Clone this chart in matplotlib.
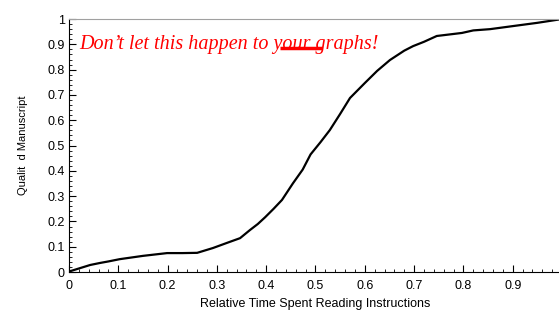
import matplotlib
matplotlib.use("Agg")
import matplotlib.pyplot as plt
from matplotlib.ticker import MultipleLocator

# values
time_spent = [0.0, 0.043, 0.063, 0.08, 0.103, 0.15, 0.199, 0.23, 0.26, 0.292,
              0.32, 0.347, 0.367, 0.383, 0.398, 0.415, 0.432, 0.454, 0.474, 0.49,
              0.51, 0.529, 0.55, 0.570, 0.60, 0.625, 0.651, 0.68, 0.698, 0.72,
              0.746, 0.797, 0.82, 0.854, 0.90, 0.95, 1.0]
quality = [0.002, 0.028, 0.036, 0.042, 0.051, 0.064, 0.075, 0.075, 0.076, 0.095,
           0.115, 0.134, 0.166, 0.19, 0.217, 0.25, 0.285, 0.35, 0.405, 0.465,
           0.513, 0.561, 0.625, 0.688, 0.747, 0.795, 0.838, 0.875, 0.893, 0.91,
           0.933, 0.945, 0.955, 0.96, 0.972, 0.985, 1.0]

xticks = [0, 0.1, 0.2, 0.3, 0.4, 0.5, 0.6, 0.7, 0.8, 0.9]
xtick_labels = ["0", "0.1", "0.2", "0.3", "0.4", "0.5", "0.6", "0.7", "0.8", "0.9"]
yticks = [0, 0.1, 0.2, 0.3, 0.4, 0.5, 0.6, 0.7, 0.8, 0.9, 1.0]
ytick_labels = ["0", "0.1", "0.2", "0.3", "0.4", "0.5", "0.6", "0.7", "0.8", "0.9", "1"]

plt.rcParams['font.family'] = ['Liberation Sans', 'DejaVu Sans']

fig = plt.figure(figsize=(5.59, 3.12), dpi=100)
ax = fig.add_axes([0.1234, 0.128, 0.882, 0.811])

ax.plot(time_spent, quality, color='black', linewidth=1.6)

ax.set_xlim(0, 1)
ax.set_ylim(0, 1)
ax.set_xticks(xticks)
ax.set_xticklabels(xtick_labels)
ax.set_yticks(yticks)
ax.set_yticklabels(ytick_labels)
ax.xaxis.set_minor_locator(MultipleLocator(0.02))
ax.yaxis.set_minor_locator(MultipleLocator(0.02))
ax.tick_params(which='major', direction='in', length=5, width=0.8, labelsize=9)
ax.tick_params(which='minor', direction='in', length=2.5, width=0.6)
ax.tick_params(axis='x', pad=6)
ax.tick_params(axis='y', pad=3)

ax.spines['top'].set_color('#a0a0a0')
ax.spines['right'].set_color('#a0a0a0')

ax.set_xlabel("Relative Time Spent Reading Instructions", fontsize=9, labelpad=4)
ax.set_ylabel("Qualit  d Manuscript", fontsize=8, labelpad=14)

ax.text(0.02, 0.9, "Don\u2019t let this happen to your graphs!", color='red',
        fontsize=14.5, fontstyle='italic', family=['Liberation Serif', 'DejaVu Serif'],
        transform=ax.transAxes, va='center', ha='left')
# red bar through "your"
ax.plot([0.428, 0.513], [0.885, 0.885], color='red', linewidth=2.5,
        transform=ax.transAxes, solid_capstyle='butt')

fig.savefig("out.png", dpi=100)
